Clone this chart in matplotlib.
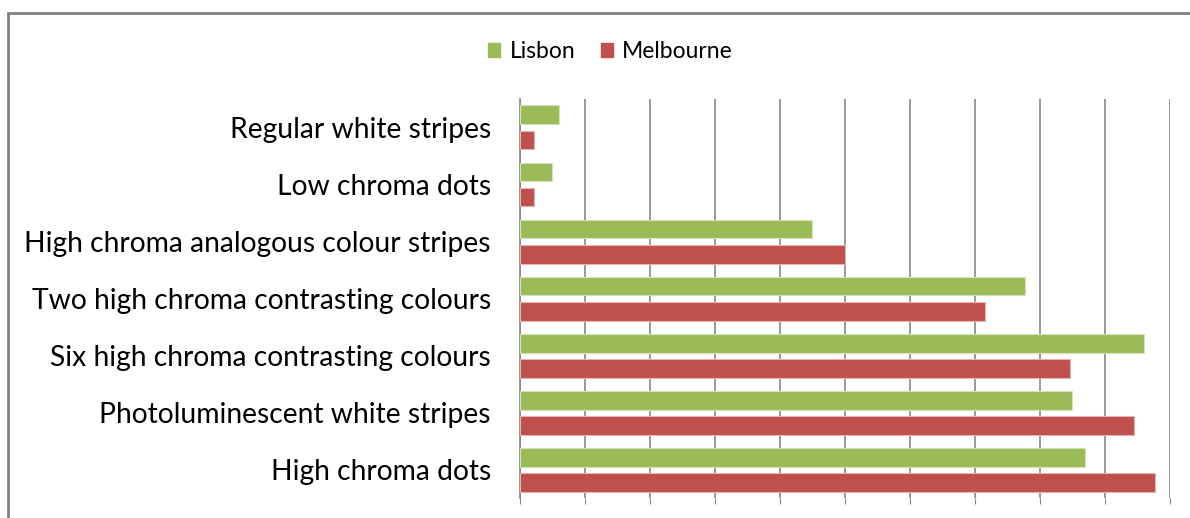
import matplotlib.pyplot as plt
import numpy as np
from matplotlib.patches import Rectangle, Patch

categories = ["Regular white stripes", "Low chroma dots",
              "High chroma analogous colour stripes",
              "Two high chroma contrasting colours",
              "Six high chroma contrasting colours",
              "Photoluminescent white stripes", "High chroma dots"]
lisbon = [6.0, 4.9, 44.9, 77.7, 96.0, 84.9, 86.9]
melbourne = [2.2, 2.2, 50.0, 71.5, 84.6, 94.5, 97.7]

plt.rcParams['font.family'] = ['Lato', 'DejaVu Sans']

fig = plt.figure(figsize=(11.9, 5.18), dpi=100)
ax = fig.add_axes([0.437, 0.038, 0.546, 0.771])

y = np.arange(len(categories))
h = 0.33
ax.barh(y - 0.22, lisbon, height=h, color="#9BBB59", edgecolor="#d4e3b5", linewidth=0.8, zorder=3)
ax.barh(y + 0.22, melbourne, height=h, color="#C0504D", edgecolor="#e5b3b2", linewidth=0.8, zorder=3)

ax.set_ylim(len(categories) - 0.5, -0.5)
ax.set_xlim(0, 100)
ax.set_xticks(np.arange(0, 101, 10))
ax.set_xticklabels([])
ax.tick_params(axis='x', length=4, color="#888888", direction='out')
ax.tick_params(axis='y', length=0, pad=21, labelsize=20.3)
ax.set_yticks(y)
ax.set_yticklabels(categories)
ax.grid(axis='x', color="#888888", linewidth=1.2, zorder=0)
for s in ['top', 'right', 'bottom']:
    ax.spines[s].set_visible(False)
ax.spines['left'].set_color("#888888")
ax.spines['left'].set_linewidth(1.2)

handles = [Patch(color="#9BBB59", label="Lisbon"), Patch(color="#C0504D", label="Melbourne")]
fig.legend(handles=handles, loc='center', bbox_to_anchor=(0.513, 0.9), ncol=2,
           frameon=False, fontsize=16.5, handlelength=0.55, handleheight=0.55,
           handletextpad=0.4, columnspacing=1.1)

fig.patches.append(Rectangle((8 / 1190, -0.1), 1.2, 1 - 13 / 518 + 0.1,
                             transform=fig.transFigure, fill=False,
                             edgecolor="#808080", linewidth=2))

fig.savefig("out.png", dpi=100)
